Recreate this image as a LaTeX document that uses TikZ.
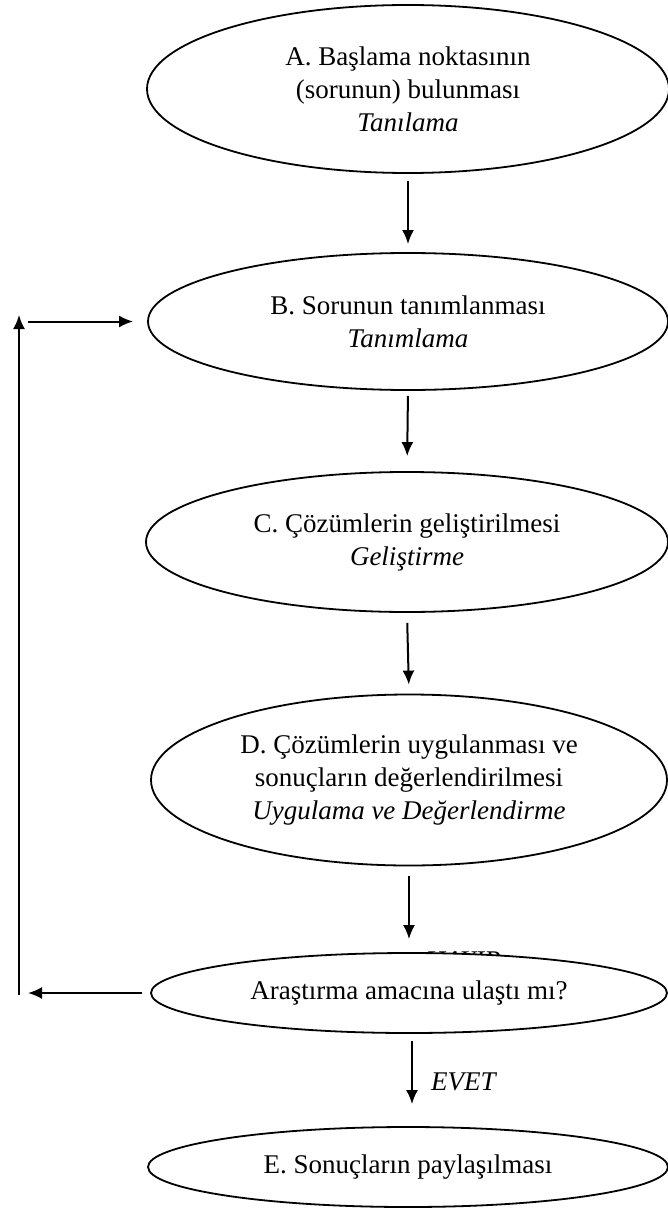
\documentclass[tikz,border=0pt]{standalone}
\usepackage{fontspec}
\setmainfont{Liberation Serif}
\usetikzlibrary{shapes.geometric,arrows.meta}
\begin{document}
\begin{tikzpicture}[x=1pt,y=-1pt,
  stage/.style={ellipse,draw,line width=1.8pt,fill=white,inner sep=0pt,align=center,
    font=\fontsize{27}{33}\selectfont},
  arr/.style={-{Latex[length=14pt,width=12pt]},line width=2pt},
  lbl/.style={inner sep=0pt,font=\fontsize{27}{33}\selectfont\itshape}]
\useasboundingbox (0,0) rectangle (668,1209);
\node[stage,minimum width=522pt,minimum height=168pt] (A) at (408,89)
  {A. Başlama noktasının\\(sorunun) bulunması\\\textit{Tanılama}};
\node[stage,minimum width=520pt,minimum height=137pt] (B) at (408,321.5)
  {B. Sorunun tanımlanması\\\textit{Tanımlama}};
\node[stage,minimum width=522pt,minimum height=140pt] (C) at (407,542)
  {C. Çözümlerin geliştirilmesi\\\textit{Geliştirme}};
\node[stage,minimum width=516pt,minimum height=171pt] (D) at (409,780)
  {D. Çözümlerin uygulanması ve\\sonuçların değerlendirilmesi\\\textit{Uygulama ve Değerlendirme}};
\node[lbl,anchor=base] (hayir) at (463,969.5) {HAYIR};
\node[stage,minimum width=516pt,minimum height=80pt] (F) at (409,993)
  {Araştırma amacına ulaştı mı?};
\node[stage,minimum width=520pt,minimum height=80pt] (E) at (408,1167)
  {E. Sonuçların paylaşılması};
\node[lbl,anchor=west] (evet) at (431,1082) {EVET};
\coordinate (retE) at (28,993);
\coordinate (loopB) at (19,995);
\coordinate (loopT) at (19,315);
\coordinate (retS) at (28,321.5);
\draw[arr,shorten <=7pt,shorten >=8pt] (A.south) -- (B.north);
\draw[arr,shorten <=5pt,shorten >=15pt] (B.south) -- (C.north);
\draw[arr,shorten <=10pt,shorten >=9pt] (C.south) -- (D.north);
\draw[arr,shorten <=10pt,shorten >=13pt] (D.south) -- (F.north);
\draw[arr,shorten <=7pt,shorten >=22pt] ([xshift=3pt]F.south) -- ([xshift=4pt]E.north);
\draw[arr,shorten <=8pt] (F.west) -- (retE);
\draw[arr] (loopB) -- (loopT);
\draw[arr,shorten >=14pt] (retS) -- (B.west);
\end{tikzpicture}
\end{document}
